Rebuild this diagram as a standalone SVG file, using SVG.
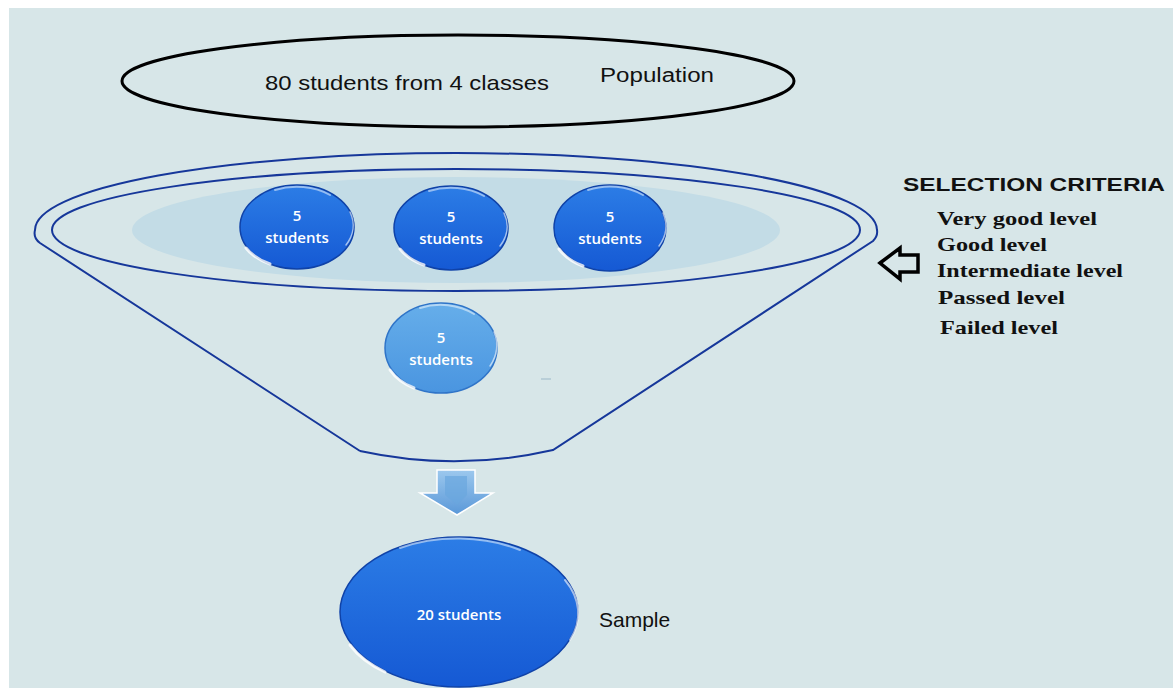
<svg xmlns="http://www.w3.org/2000/svg" width="1173" height="688" viewBox="0 0 1173 688">
<defs>
<style>
.funnel{fill:none;stroke:#16379a;stroke-width:2}
.ball text{fill:#ffffff;font-family:"Open Sans","Liberation Sans",sans-serif;font-size:15px;font-weight:600;text-anchor:middle}
.crit{font-family:"Liberation Serif",serif;font-weight:bold;font-size:19px;fill:#111}
.lab{font-family:"Liberation Sans",sans-serif;fill:#111}
.hl{fill:none;stroke:#ffffff;stroke-linecap:round}
</style>
<linearGradient id="gBlue" x1="0" y1="0" x2="0" y2="1">
<stop offset="0" stop-color="#2c7de6"/>
<stop offset="1" stop-color="#1559d4"/>
</linearGradient>
<linearGradient id="gLight" x1="0" y1="0" x2="0" y2="1">
<stop offset="0" stop-color="#66aeea"/>
<stop offset="1" stop-color="#4a95e0"/>
</linearGradient>
<linearGradient id="gArrow" x1="0" y1="0" x2="0" y2="1">
<stop offset="0" stop-color="#9cc8ee"/>
<stop offset="1" stop-color="#5a98d8"/>
</linearGradient>
</defs>
<rect x="0" y="0" width="1173" height="688" fill="#ffffff"/>
<rect x="9" y="8" width="1164" height="680" fill="#d7e6e8"/>

<g id="population">
<ellipse cx="458" cy="81" rx="336" ry="46" fill="none" stroke="#000" stroke-width="3"/>
<text class="lab" x="407" y="90" font-size="21" text-anchor="middle" textLength="284" lengthAdjust="spacingAndGlyphs">80 students from 4 classes</text>
<text class="lab" x="657" y="82" font-size="20" text-anchor="middle" textLength="114" lengthAdjust="spacingAndGlyphs">Population</text>
</g>

<g id="funnel">
<path class="funnel" d="M 360,451 L 40,243 Q 33,238 35,230 A 421 77 0 0 1 877,230 Q 878,236 873,241 L 553,450 Q 456,472 360,451"/>
<ellipse cx="456" cy="230" rx="324" ry="53" fill="#c3dce6"/>
<ellipse class="funnel" cx="456" cy="230" rx="404" ry="61"/>
</g>

<g id="ball1" class="ball">
<ellipse cx="297" cy="227" rx="57" ry="42" fill="url(#gBlue)" stroke="#0f42a8" stroke-width="1.5"/>
<path class="hl" d="M 246,248 A 55 40 0 0 0 270,264" stroke-width="3" opacity="0.8"/>
<path class="hl" d="M 275,190 A 55 40 0 0 1 330,195" stroke-width="2" opacity="0.5"/>
<path class="hl" d="M 350,212 A 55 40 0 0 1 346,245" stroke-width="1.5" opacity="0.6"/>
<text x="297" y="221">5</text>
<text x="297" y="243">students</text>
</g>

<g id="ball2" class="ball">
<ellipse cx="451" cy="228" rx="57" ry="42" fill="url(#gBlue)" stroke="#0f42a8" stroke-width="1.5"/>
<path class="hl" d="M 400,249 A 55 40 0 0 0 424,265" stroke-width="3" opacity="0.8"/>
<path class="hl" d="M 429,191 A 55 40 0 0 1 484,196" stroke-width="2" opacity="0.5"/>
<path class="hl" d="M 504,213 A 55 40 0 0 1 500,246" stroke-width="1.5" opacity="0.6"/>
<text x="451" y="222">5</text>
<text x="451" y="244">students</text>
</g>

<g id="ball3" class="ball">
<ellipse cx="610" cy="228" rx="56" ry="43" fill="url(#gBlue)" stroke="#0f42a8" stroke-width="1.5"/>
<path class="hl" d="M 559,249 A 54 41 0 0 0 583,266" stroke-width="3" opacity="0.8"/>
<path class="hl" d="M 588,190 A 54 41 0 0 1 643,195" stroke-width="2" opacity="0.5"/>
<path class="hl" d="M 663,213 A 54 41 0 0 1 659,246" stroke-width="1.5" opacity="0.6"/>
<text x="610" y="222">5</text>
<text x="610" y="244">students</text>
</g>

<g id="ball4" class="ball">
<ellipse cx="441" cy="348" rx="56" ry="45" fill="url(#gLight)" stroke="#2f74c8" stroke-width="1.5"/>
<path class="hl" d="M 390,370 A 54 43 0 0 0 414,388" stroke-width="3" opacity="0.8"/>
<path class="hl" d="M 420,308 A 54 43 0 0 1 474,314" stroke-width="2" opacity="0.5"/>
<path class="hl" d="M 494,332 A 54 43 0 0 1 490,366" stroke-width="1.5" opacity="0.6"/>
<text x="441" y="343">5</text>
<text x="441" y="365">students</text>
</g>
<line x1="541" y1="379" x2="551" y2="379" stroke="#9bb8c8" stroke-width="1"/>

<g id="downArrow">
<polygon points="437,470 475,470 475,493 493,493 457,515 420,493 437,493" fill="url(#gArrow)" stroke="#ffffff" stroke-width="1.5"/>
<polygon points="445,476 467,476 467,495 457,505 445,495" fill="#6aa6de" opacity="0.7"/>
</g>

<g id="sample" class="ball">
<ellipse cx="459" cy="612" rx="119" ry="75" fill="url(#gBlue)" stroke="#0f42a8" stroke-width="1.5"/>
<path class="hl" d="M 350,645 A 116 72 0 0 0 385,672" stroke-width="3" opacity="0.8"/>
<path class="hl" d="M 400,548 A 116 72 0 0 1 520,550" stroke-width="2" opacity="0.5"/>
<path class="hl" d="M 565,580 A 116 72 0 0 1 570,640" stroke-width="2" opacity="0.6"/>
<text x="459" y="620" font-size="15">20 students</text>
</g>
<text class="lab" x="599" y="627" font-size="21">Sample</text>

<g id="criteria">
<text class="lab" x="903" y="191" font-size="19" font-weight="bold" textLength="262" lengthAdjust="spacingAndGlyphs">SELECTION CRITERIA</text>
<polygon points="880,263 900,248 900,255 918,255 918,272 900,272 900,279" fill="none" stroke="#000" stroke-width="3.5" stroke-linejoin="miter"/>
<text class="crit" x="937" y="225" textLength="160" lengthAdjust="spacingAndGlyphs">Very good level</text>
<text class="crit" x="937" y="251" textLength="110" lengthAdjust="spacingAndGlyphs">Good level</text>
<text class="crit" x="937" y="277" textLength="186" lengthAdjust="spacingAndGlyphs">Intermediate level</text>
<text class="crit" x="938" y="304" textLength="127" lengthAdjust="spacingAndGlyphs">Passed level</text>
<text class="crit" x="940" y="334" textLength="118" lengthAdjust="spacingAndGlyphs">Failed level</text>
</g>
</svg>
